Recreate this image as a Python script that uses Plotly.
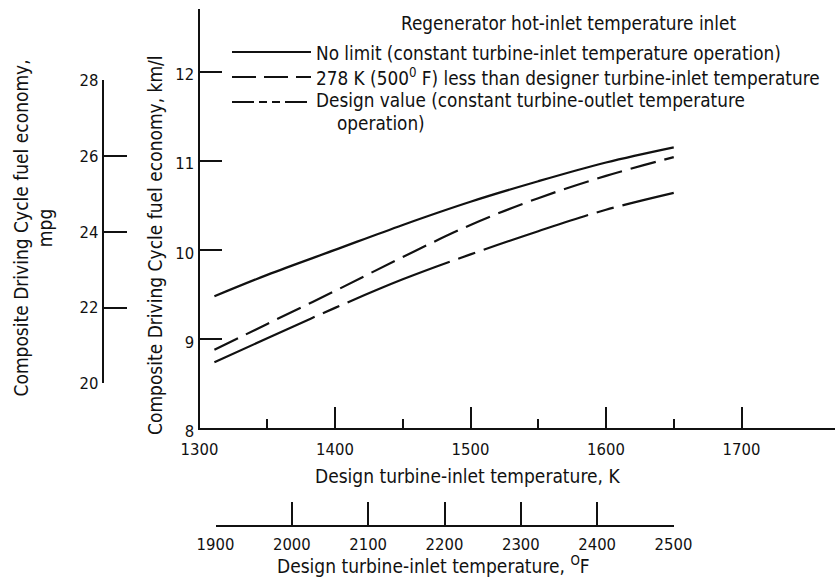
import plotly.graph_objects as go

# ---------------- data ----------------
temp_K = [1311, 1350, 1400, 1450, 1500, 1550, 1600, 1650]
no_limit = [9.48, 9.72, 10.00, 10.28, 10.54, 10.77, 10.98, 11.15]
less_278 = [8.88, 9.17, 9.54, 9.92, 10.28, 10.58, 10.83, 11.04]
design_value = [8.74, 9.01, 9.35, 9.67, 9.95, 10.21, 10.45, 10.64]

series_names = [
    "No limit (constant turbine-inlet temperature operation)",
    "278 K (500<sup>0</sup> F) less than designer turbine-inlet temperature",
    "Design value (constant turbine-outlet temperature",
]
legend_title = "Regenerator hot-inlet temperature inlet"

k_ticks = [1300, 1400, 1500, 1600, 1700]
k_minor = [1350, 1450, 1550, 1650]
f_ticks = [1900, 2000, 2100, 2200, 2300, 2400, 2500]
kml_ticks = [8, 9, 10, 11, 12]
mpg_ticks = [20, 22, 24, 26, 28]
KML_PER_MPG = 0.425144

# ---------------- layout geometry (pixels) ----------------
W, H = 835, 580
X0, X1 = 199.5, 835.0
PX_PER_K = 1.355
XMIN = 1300
XMAX = XMIN + (X1 - X0) / PX_PER_K
Y_BOT, Y_TOP = 428.3, 9.0
PX_PER_KML = 89.2
YMIN = 8
YMAX = YMIN + (Y_BOT - Y_TOP) / PX_PER_KML


def px(x):
    return x / W


def py(y):
    return 1 - y / H


def kml_to_paper(v):
    return py(Y_BOT - (v - YMIN) * PX_PER_KML)


FONT = "DejaVu Sans Condensed, DejaVu Sans, sans-serif"
FS = 19
LFS = 18.8
TFS = 16.5
BLACK = "#111111"

dashes = ["solid", "26px,9px", "110px,9px,18px,9px"]
series = [no_limit, less_278, design_value]

fig = go.Figure()
for name, ys, d in zip(series_names, series, dashes):
    fig.add_trace(go.Scatter(x=temp_K, y=ys, mode="lines", name=name,
                             line=dict(color=BLACK, width=2.2, dash=d, shape="spline"),
                             showlegend=False, hoverinfo="skip"))

# placeholder traces so the secondary (°F and mpg) axes are drawn
fig.add_trace(go.Scatter(x=[None], y=[None], xaxis="x2", yaxis="y", showlegend=False, hoverinfo="skip"))
fig.add_trace(go.Scatter(x=[None], y=[None], xaxis="x", yaxis="y2", showlegend=False, hoverinfo="skip"))

axis_common = dict(showline=True, linecolor=BLACK, linewidth=2, ticks="inside",
                   tickcolor=BLACK, tickwidth=2, showgrid=False, zeroline=False,
                   tickfont=dict(family=FONT, size=TFS, color=BLACK), fixedrange=True)

fig.update_layout(
    width=W, height=H,
    margin=dict(l=0, r=0, t=0, b=0, pad=0, autoexpand=False),
    paper_bgcolor="white", plot_bgcolor="rgba(0,0,0,0)",
    showlegend=False,
    font=dict(family=FONT, size=FS, color=BLACK),
    xaxis=dict(domain=[px(X0), 1], range=[XMIN, XMAX], anchor="y",
               tickvals=k_ticks, ticklen=21, ticklabelstandoff=5,
               minor=dict(tickvals=k_minor, ticks="inside", ticklen=9, tickwidth=2, tickcolor=BLACK),
               **axis_common),
    yaxis=dict(domain=[py(Y_BOT), py(Y_TOP)], range=[YMIN, YMAX], anchor="x",
               tickvals=kml_ticks, ticklen=22, ticklabelshift=3, **axis_common),
    xaxis2=dict(domain=[px(215.5), px(673.5)], range=[f_ticks[0], f_ticks[-1]],
                anchor="free", position=py(526), tickvals=f_ticks, ticklen=23,
                ticklabelstandoff=3, **axis_common),
    yaxis2=dict(domain=[kml_to_paper(mpg_ticks[0] * KML_PER_MPG), kml_to_paper(mpg_ticks[-1] * KML_PER_MPG)],
                range=[mpg_ticks[0], mpg_ticks[-1]], anchor="free", position=px(102.7), side="left",
                tickvals=mpg_ticks, ticklen=23, **axis_common),
)

ann = []


def add_text(text, x, y, xanchor="center", angle=0, size=FS):
    ann.append(dict(text=text, x=px(x), y=py(y), xref="paper", yref="paper",
                    xanchor=xanchor, yanchor="middle", showarrow=False, textangle=angle,
                    font=dict(family=FONT, size=size, color=BLACK)))


add_text("Composite Driving Cycle fuel economy, km/l", 155, 245, angle=-90)
add_text("Composite Driving Cycle fuel economy,<br>mpg", 32.5, 228, angle=-90)
add_text("Design turbine-inlet temperature, K", 467, 476)
add_text("Design turbine-inlet temperature, <sup>O</sup>F", 433, 565)
add_text(legend_title, 399, 23, xanchor="left", size=LFS)
for name, yy in zip(series_names, [53, 77.5, 101]):
    add_text(name, 314, yy, xanchor="left", size=LFS)
add_text("operation)", 335, 124, xanchor="left", size=LFS)

shapes = []
for d, yy in zip(["solid", "24px,8px", "22px,5px,8px,5px,8px,5px"], [52, 77, 102]):
    shapes.append(dict(type="line", xref="paper", yref="paper",
                       x0=px(232), x1=px(311), y0=py(yy), y1=py(yy),
                       line=dict(color=BLACK, width=2, dash=d)))

fig.update_layout(annotations=ann, shapes=shapes)
fig.write_html("out.html", config={"displayModeBar": False},
               post_script="document.body.style.margin='0px';document.body.style.overflow='hidden';")
